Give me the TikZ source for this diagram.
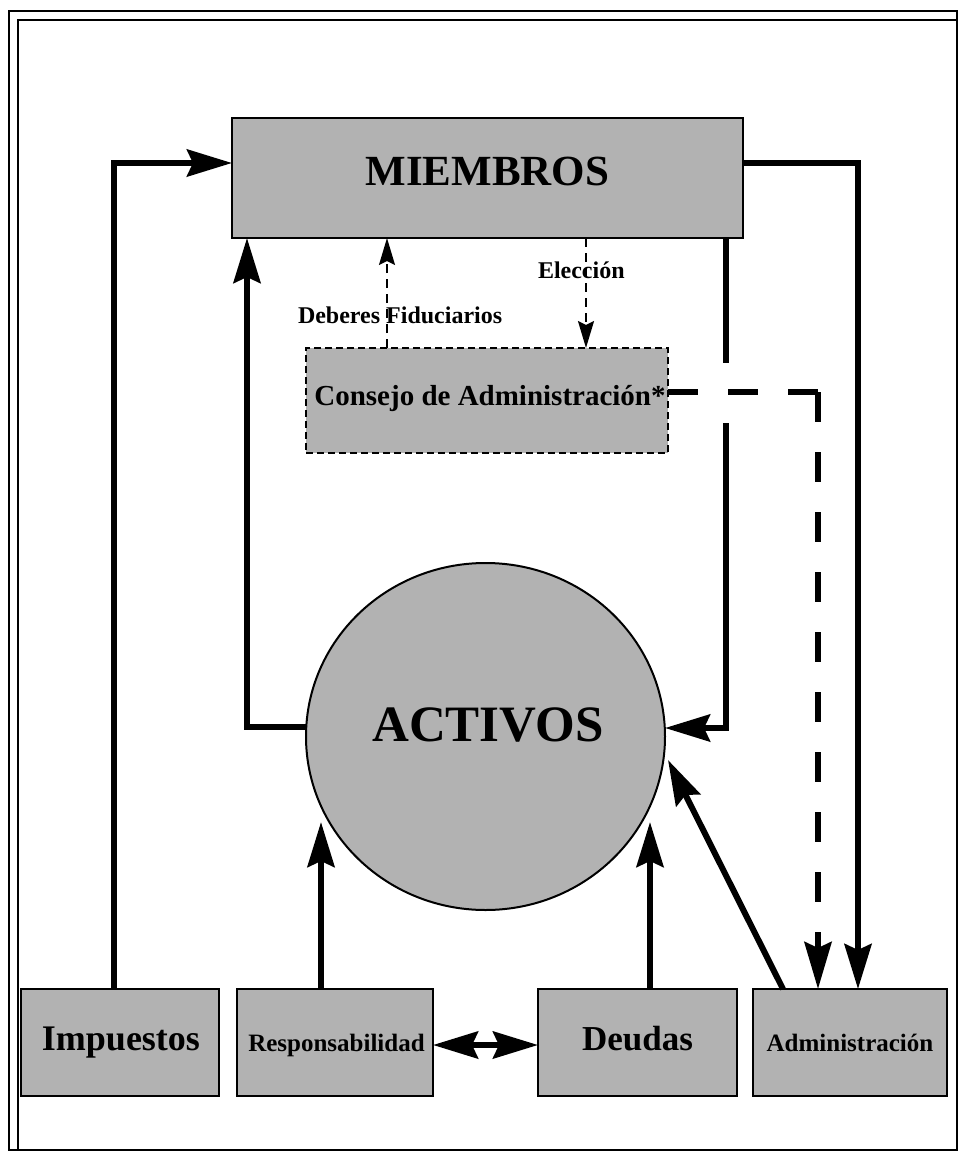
\documentclass[tikz,border=0pt]{standalone}
\usepackage{fontspec}
\setmainfont{Liberation Serif}
\usetikzlibrary{arrows.meta,shapes.geometric}
\definecolor{boxgray}{gray}{0.70}
\tikzset{
  boxnode/.style={draw=black, line width=2, fill=boxgray, rectangle, inner sep=0, outer sep=0},
  consbox/.style={boxnode, line width=2.5, dash pattern=on 7 off 4},
  txt/.style={inner sep=0, outer sep=0, font=\bfseries},
  big/.style={line width=6, line join=miter, -{Stealth[length=45, width=27, inset=6]}},
  bigboth/.style={line width=6, {Stealth[length=45, width=27, inset=6]}-{Stealth[length=45, width=27, inset=6]}},
  bigdash/.style={line width=6, dash pattern=on 30 off 30, -{Stealth[length=47, width=27, inset=6]}},
  thindash/.style={line width=2, dash pattern=on 9 off 6, -{Stealth[length=27, width=16, inset=4]}},
}
\begin{document}
\begin{tikzpicture}[x=1pt, y=-1pt]
\useasboundingbox (0,0) rectangle (959,1154);
% frame
\draw[line width=2] (9,11) rectangle (957,1150);
\draw[line width=2] (18,1149) -- (18,20) -- (956,20);

% nodes
\node[boxnode, minimum width=511, minimum height=120] (mem) at (487.5,178) {};
\node[consbox, minimum width=362, minimum height=105] (cons) at (487,400.5) {};
\node[draw=black, line width=2, fill=boxgray, ellipse, inner sep=0, outer sep=0,
      minimum width=359, minimum height=347] (act) at (485.5,736.5) {};
\node[boxnode, minimum width=198, minimum height=107] (imp) at (120,1042.5) {};
\node[boxnode, minimum width=196, minimum height=107] (res) at (335,1042.5) {};
\node[boxnode, minimum width=199, minimum height=107] (deu) at (637.5,1042.5) {};
\node[boxnode, minimum width=194, minimum height=107] (adm) at (850,1042.5) {};

% texts
\node[txt, anchor=base, font=\bfseries\fontsize{43}{43}\selectfont] (tmem) at (487.5,185) {MIEMBROS};
\node[txt, anchor=base, font=\bfseries\fontsize{51}{51}\selectfont] (tact) at (488,741) {ACTIVOS};
\node[txt, anchor=base, font=\bfseries\fontsize{29}{29}\selectfont] (tcons) at (490,405) {Consejo de Administración*};
\node[txt, anchor=base, font=\bfseries\fontsize{36}{36}\selectfont] (timp) at (121,1050) {Impuestos};
\node[txt, anchor=base, font=\bfseries\fontsize{25}{25}\selectfont] (tres) at (336.5,1051) {Responsabilidad};
\node[txt, anchor=base, font=\bfseries\fontsize{35}{35}\selectfont] (tdeu) at (637.5,1050) {Deudas};
\node[txt, anchor=base, font=\bfseries\fontsize{25}{25}\selectfont] (tadm) at (850,1051) {Administración};
\node[txt, anchor=base west, font=\bfseries\fontsize{24}{24}\selectfont] (tdeb) at (298,323) {Deberes Fiduciarios};
\node[txt, anchor=base west, font=\bfseries\fontsize{24}{24}\selectfont] (telec) at (538,278) {Elección};

% coordinates of free arrow ends
\coordinate (resTip) at (321,822);
\coordinate (deuTip) at (650,822);
\coordinate (admTip) at (668,760);

% connectors
\draw[big] ([xshift=-6]imp.north) |- ([yshift=15]mem.west);
\draw[big] ([yshift=15]mem.east) -| ([xshift=8]adm.north);
\draw[big] ([xshift=238.5]mem.south) -- ++(0,125) ++(0,60) |- ([yshift=8.5]act.east);
\draw[big] ([yshift=9.5]act.west) -| ([xshift=-240.5]mem.south);
\draw[big] ([xshift=-14]res.north) -- (resTip);
\draw[big] ([xshift=12.5]deu.north) -- (deuTip);
\draw[big] ([xshift=-67]adm.north) -- (admTip);
\draw[bigboth] ([yshift=-2.5]res.east) -- ([yshift=-2.5]deu.west);
\draw[bigdash] ([yshift=8.5]cons.east) -- ++(153,0) ++(-3,0) -- ([xshift=-32]adm.north);
\draw[thindash] ([xshift=-100]cons.north) -- ([xshift=-100]cons.north |- mem.south);
\draw[thindash] ([xshift=99]cons.north |- mem.south) -- ([xshift=99]cons.north);
\end{tikzpicture}
\end{document}
